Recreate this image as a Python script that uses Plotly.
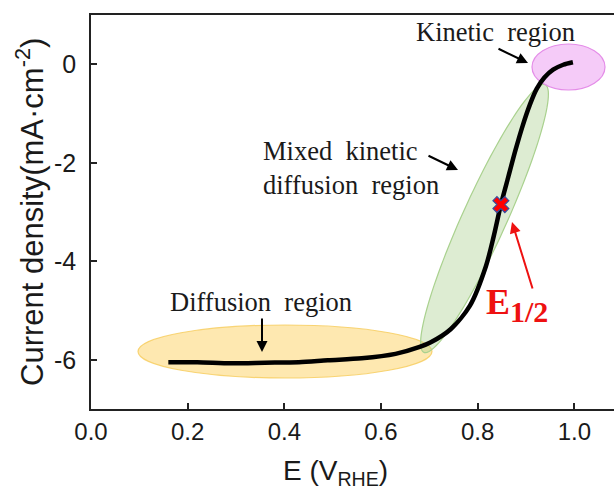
import numpy as np
import plotly.graph_objects as go

# ---- data ----
potential_V = [0.16, 0.22, 0.29, 0.36, 0.43, 0.49, 0.56, 0.63, 0.68, 0.703, 0.744,
               0.784, 0.817, 0.833, 0.848, 0.863, 0.878, 0.893, 0.908, 0.922,
               0.938, 0.956, 0.977, 0.997]
current_mA = [-6.05, -6.05, -6.07, -6.06, -6.05, -6.01, -5.97, -5.88, -5.74, -5.645, -5.38,
              -4.90, -4.10, -3.50, -2.85, -2.30, -1.75, -1.25, -0.82, -0.50,
              -0.27, -0.11, -0.01, 0.04]
e_half_x = [0.848]
e_half_y = [-2.85]

x_ticks = [0.0, 0.2, 0.4, 0.6, 0.8, 1.0]
y_ticks = [0, -2, -4, -6]
y_tick_text = ["0", "-2", "-4", "-6"]

# ---- layout geometry ----
W, H = 614, 491
ML, MR, MT, MB = 91, 0, 15, 82
XR = [0.0, 1.082]
YR = [-7.0, 1.0]
PW, PH = W - ML - MR, H - MT - MB


def px2x(px):
    return XR[0] + (px - ML) * (XR[1] - XR[0]) / PW


def py2y(py):
    return YR[1] - (py - MT) * (YR[1] - YR[0]) / PH


fig = go.Figure()

fig.add_trace(go.Scatter(x=potential_V, y=current_mA, mode="lines",
                         line=dict(color="black", width=4.5, shape="spline", smoothing=0.8),
                         showlegend=False, hoverinfo="skip"))
fig.add_trace(go.Scatter(x=e_half_x, y=e_half_y, mode="markers",
                         marker=dict(symbol="x", size=14, color="red",
                                     line=dict(color="#3b4a9c", width=1.2)),
                         showlegend=False, hoverinfo="skip"))

# ---- region ellipses ----
fig.add_shape(type="circle", xref="x", yref="y", layer="below",
              x0=px2x(138), x1=px2x(432), y0=py2y(325), y1=py2y(378),
              fillcolor="rgba(252,205,80,0.45)", line=dict(color="rgba(245,200,80,0.75)", width=1.2))

# rotated green ellipse (computed in pixel space)
cx, cy = 484.5, 218.5
a, b = 147.0, 22.0
ang = np.arctan2(-267, 121)
t = np.linspace(0, 2 * np.pi, 120)
ex = cx + a * np.cos(t) * np.cos(ang) - b * np.sin(t) * np.sin(ang)
ey = cy + a * np.cos(t) * np.sin(ang) + b * np.sin(t) * np.cos(ang)
path = "M " + " L ".join(f"{px2x(u):.5f},{py2y(v):.5f}" for u, v in zip(ex, ey)) + " Z"
fig.add_shape(type="path", path=path, xref="x", yref="y", layer="below",
              fillcolor="rgba(169,208,142,0.40)", line=dict(color="#a9d18e", width=1.2))

fig.add_shape(type="circle", xref="x", yref="y", layer="below",
              x0=px2x(532), x1=px2x(605), y0=py2y(44), y1=py2y(90),
              fillcolor="rgba(232,140,240,0.45)", line=dict(color="#e48ce8", width=1.2))

serif = dict(family="Liberation Serif", size=26.5, color="#1a1a1a")

# ---- texts ----
fig.add_annotation(x=px2x(495), y=py2y(32), text="Kinetic  region", showarrow=False,
                   font=serif, xanchor="center", yanchor="middle")
fig.add_annotation(x=px2x(261), y=py2y(168), text="Mixed  kinetic<br>diffusion  region",
                   showarrow=False, font=serif, xanchor="left", yanchor="middle", align="left")
fig.add_annotation(x=px2x(261), y=py2y(302), text="Diffusion  region", showarrow=False,
                   font=serif, xanchor="center", yanchor="middle")
fig.add_annotation(x=px2x(517), y=py2y(305),
                   text="<b>E<sub><span style='font-size:30px'>1/2</span></sub></b>",
                   showarrow=False, font=dict(family="Liberation Serif", size=36, color="#ee1111"),
                   xanchor="center", yanchor="middle")

# ---- arrows ----
arrows = [((528, 63), -31, -15, "black"),
          ((458, 170), -31, -15, "black"),
          ((262, 352), 0, -35, "black"),
          ((512, 222), 21, 68, "#ee1111")]
for (tx, ty), ax, ay, col in arrows:
    fig.add_annotation(x=px2x(tx), y=py2y(ty), ax=ax, ay=ay, text="", showarrow=True,
                       arrowhead=2, arrowsize=1.1, arrowwidth=2, arrowcolor=col, standoff=0)

# ---- axis titles ----
fig.add_annotation(x=0.505, xref="x", y=0, yref="paper", yshift=-44,
                   text="E (V<sub>RHE</sub>)", showarrow=False,
                   font=dict(family="Liberation Sans", size=28, color="#1a1a1a"),
                   xanchor="center", yanchor="top")
fig.add_annotation(x=0, xref="paper", xshift=-61, y=0.5, yref="paper",
                   text="Current density(mA·cm<sup>-2</sup>)", textangle=-90, showarrow=False,
                   font=dict(family="Liberation Sans", size=31, color="#1a1a1a"),
                   xanchor="center", yanchor="middle")

fig.update_layout(
    width=W, height=H,
    margin=dict(l=ML, r=MR, t=MT, b=MB, pad=0, autoexpand=False),
    paper_bgcolor="white", plot_bgcolor="white",
    showlegend=False,
    xaxis=dict(range=XR, tickvals=x_ticks, ticktext=[f"{v:.1f}" for v in x_ticks],
               ticks="inside", ticklen=6, tickwidth=1.5, tickcolor="#222",
               showline=True, linecolor="#222", linewidth=1.5, mirror=True,
               showgrid=False, zeroline=False, ticklabelstandoff=0, automargin=False,
               tickfont=dict(family="Liberation Sans", size=24, color="#1a1a1a")),
    yaxis=dict(range=YR, tickvals=y_ticks, ticktext=y_tick_text,
               ticks="inside", ticklen=6, tickwidth=1.5, tickcolor="#222",
               showline=True, linecolor="#222", linewidth=1.5,
               showgrid=False, zeroline=False, ticklabelstandoff=8, automargin=False,
               tickfont=dict(family="Liberation Sans", size=25, color="#1a1a1a")),
)

fig.write_html("out.html", config={"displayModeBar": False},
               post_script="document.body.style.margin='0px';")
